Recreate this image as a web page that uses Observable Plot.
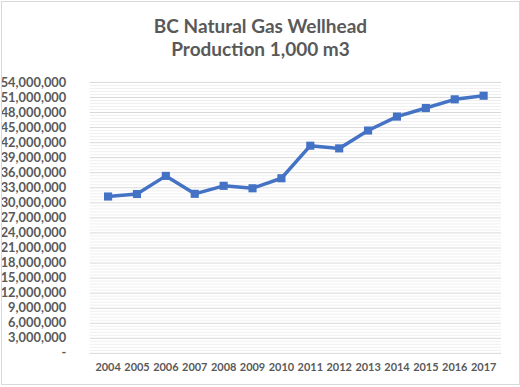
<!DOCTYPE html>
<html>
<head>
<meta charset="utf-8">
<script src="https://cdn.jsdelivr.net/npm/d3@7"></script>
<script src="https://cdn.jsdelivr.net/npm/@observablehq/plot@0.6"></script>
<style>
  html, body { margin: 0; padding: 0; background: #fff; }
  #frame { position: relative; width: 517px; height: 382px; margin: 1px 0 0 1px; border: 1px solid #d9d9d9; background: #fff; overflow: hidden; }
  #title { position: absolute; left: 0; top: 12px; width: 517px; text-align: center; font-family: Lato, "Open Sans", sans-serif; font-weight: bold; font-size: 19px; line-height: 23px; color: #595959; }
  #chart { position: absolute; left: -1px; top: 59px; }
</style>
</head>
<body>
<div id="frame">
  <div id="title">BC Natural Gas Wellhead<br>Production 1,000 m3</div>
  <div id="chart"></div>
</div>
<script>
const years = ["2004","2005","2006","2007","2008","2009","2010","2011","2012","2013","2014","2015","2016","2017"];
const production = [31260000, 31760000, 35370000, 31800000, 33390000, 32900000, 34900000, 41390000, 40850000, 44410000, 47190000, 48900000, 50630000, 51350000];
const yTicks = [0, 3000000, 6000000, 9000000, 12000000, 15000000, 18000000, 21000000, 24000000, 27000000, 30000000, 33000000, 36000000, 39000000, 42000000, 45000000, 48000000, 51000000, 54000000];
const minorStep = 600000;

const data = years.map((y, i) => ({year: y, value: production[i]}));
const minorTicks = d3.range(0, 54000000, minorStep).filter(v => v % 3000000 !== 0);
const fmt = d3.format(",");

const chart = Plot.plot({
  width: 520,
  height: 328,
  marginLeft: 89,
  marginRight: 18,
  marginTop: 21,
  marginBottom: 35,
  style: { fontFamily: "Lato, 'Open Sans', sans-serif", fontSize: "11px", fontWeight: "bold", color: "#595959", background: "transparent" },
  x: { type: "point", domain: years, padding: 0.5, label: null },
  y: { domain: [0, 54000000], label: null },
  marks: [
    Plot.ruleY(minorTicks, { stroke: "#f0f0f0", strokeWidth: 1 }),
    Plot.ruleY(yTicks, { stroke: "#d9d9d9", strokeWidth: 1 }),
    Plot.axisX({ tickSize: 0, tickPadding: 10, fontSize: 11, label: null }),
    Plot.axisY(yTicks, { tickSize: 0, tickPadding: 15, dx: -9, fontSize: 12.9, tickFormat: d => d === 0 ? "-" : fmt(d), label: null }),
    Plot.line(data, { x: "year", y: "value", stroke: "#4472C4", strokeWidth: 3.5, strokeLinejoin: "round" }),
    Plot.dot(data, { x: "year", y: "value", symbol: "square", r: 4.6, fill: "#4472C4", stroke: "none" })
  ]
});
document.getElementById("chart").appendChild(chart);
</script>
</body>
</html>
